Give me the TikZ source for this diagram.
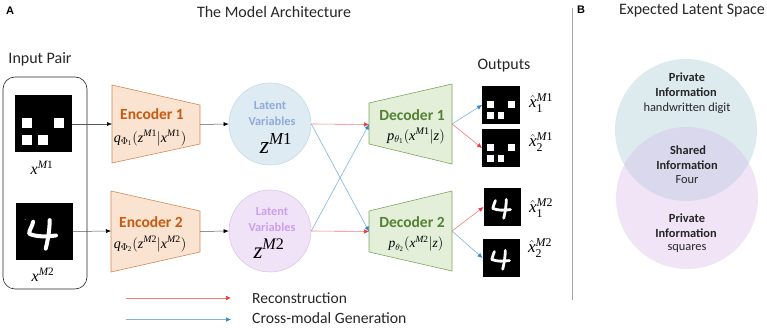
\documentclass[tikz,border=0pt]{standalone}
\usepackage{fontspec}
\setmainfont{Carlito}
\newfontfamily\panelfont{Liberation Sans}
\newfontfamily\mathserif[NFSSFamily=lsr]{Liberation Serif}
\DeclareMathAlphabet{\mvar}{TU}{lsr}{m}{it}
\DeclareMathAlphabet{\mnum}{TU}{lsr}{m}{n}
\usetikzlibrary{arrows.meta}
\definecolor{encfill}{HTML}{FAE3D0}
\definecolor{encedge}{HTML}{D08A55}
\definecolor{enctext}{HTML}{C55A11}
\definecolor{decfill}{HTML}{E3EFD9}
\definecolor{decedge}{HTML}{7FA65F}
\definecolor{dectext}{HTML}{538135}
\definecolor{zonefill}{HTML}{DEEBF2}
\definecolor{zonedge}{HTML}{C5DAE6}
\definecolor{zonetext}{HTML}{8FAADC}
\definecolor{ztwofill}{HTML}{F0E2F7}
\definecolor{ztwoedge}{HTML}{DCC8E8}
\definecolor{ztwotext}{HTML}{CB9FEC}
\definecolor{recon}{HTML}{F0373C}
\definecolor{cross}{HTML}{2E86CC}
\definecolor{reconline}{HTML}{F47C7C}
\definecolor{crossline}{HTML}{7DB4E0}
\definecolor{venntop}{HTML}{DDEBEE}
\definecolor{vennbot}{HTML}{F1E4F6}
\definecolor{vennmid}{HTML}{DAD8EC}
\tikzset{
  plain/.style={font=\fontsize{16}{18}\selectfont, inner sep=0pt, text=black!85},
  blockname/.style={font=\fontsize{15.5}{18}\selectfont\bfseries, inner sep=0pt},
  latent/.style={font=\fontsize{12.3}{14}\selectfont\bfseries, inner sep=0pt},
  vennbody/.style={font=\fontsize{12.4}{14}\selectfont, inner sep=0pt, text=black!85},
  vennhead/.style={vennbody, font=\fontsize{12.4}{14}\selectfont\bfseries},
  mathlabel/.style={inner sep=0pt, font=\fontsize{14}{16}\selectfont},
  panel/.style={font=\panelfont\fontsize{11}{13}\selectfont\bfseries, inner sep=0pt},
  tile/.style={fill=black, inner sep=0pt, minimum width=#1pt, minimum height=#1pt},
  plainarrow/.style={draw=black!65, line width=0.5pt, -{Latex[black,length=5pt,width=4pt]}},
  reconarrow/.style={draw=reconline, line width=0.6pt, -{Latex[recon,length=5pt,width=4.5pt]}},
  crossarrow/.style={draw=crossline, line width=0.6pt, -{Latex[cross,length=5pt,width=4.5pt]}},
  encoder/.style={fill=encfill, draw=encedge, line width=0.6pt},
  decoder/.style={fill=decfill, draw=decedge, line width=0.6pt},
  stroke4/.style={draw=white, line cap=round, line join=round}
}
% Four white squares on a black tile of side #3 with top-left corner (#1,#2)
\newcommand{\squaretile}[3]{%
  \begin{scope}[shift={(#1,#2)},x=#3 pt,y=-#3 pt]
    \foreach \sx/\sy in {.13/.39,.69/.39,.13/.69,.41/.69}
      \fill[white] (\sx,\sy) rectangle ++(.18,.18);
  \end{scope}}
% Handwritten digit four on a black tile
\newcommand{\fourtile}[4]{%
  \begin{scope}[shift={(#1,#2)},x=#3 pt,y=-#3 pt]
    \draw[stroke4,line width=#4pt] (.31,.33) .. controls (.29,.42) and (.24,.47) .. (.24,.54)
      .. controls (.38,.60) and (.55,.59) .. (.71,.57);
    \draw[stroke4,line width=#4pt] (.60,.30) .. controls (.60,.45) and (.57,.65) .. (.53,.80);
    \fill[white!70!black] (.17,.29) circle (.008);
  \end{scope}}
\newcommand{\modal}[2]{\mvar{#1}^{\mvar{M}\mnum{#2}}}
\begin{document}
\begin{tikzpicture}[x=1pt,y=-1pt]
\useasboundingbox (0,0) rectangle (767,328);

% Panel headings
\node[panel] (labA) at (10,11) {A};
\node[plain] (titleA) at (274,12) {The Model Architecture};
\node[panel] (labB) at (581,10) {B};
\node[plain] (titleB) at (692,10) {Expected Latent Space};
\node[plain] (inpair) at (40,59) {Input Pair};
\node[plain] (outs) at (504,66) {Outputs};

% Input pair
\draw[line width=0.6pt, rounded corners=12pt, draw=black!85] (3,77) rectangle (87,289);
\node[tile=57] (imgone) at (43,124) {};
\squaretile{14.5}{95.5}{57}
\node[tile=57] (imgtwo) at (44,231.5) {};
\fourtile{15.5}{203}{57}{4}
\node[mathlabel,font=\fontsize{16}{18}\selectfont] (xone) at (42,168) {$\modal{x}{1}$};
\node[mathlabel,font=\fontsize{16}{18}\selectfont] (xtwo) at (43,275) {$\modal{x}{2}$};

% Encoders
\draw[encoder] (112,85) -- (200,105) -- (200,144) -- (112,163) -- cycle;
\draw[encoder] (111,191) -- (200,211) -- (200,252) -- (111,272) -- cycle;
\coordinate (enconeIn) at (112,124);
\coordinate (enconeOut) at (200,124.5);
\coordinate (enctwoIn) at (111,231);
\coordinate (enctwoOut) at (200,231.5);
\node[blockname,text=enctext] (encone) at (152,114) {Encoder 1};
\node[blockname,text=enctext] (enctwo) at (151,222) {Encoder 2};
\node[mathlabel] (qone) at (150,138) {$\mvar{q}_{\Phi_{\mnum{1}}}(\modal{z}{1}|\modal{x}{1})$};
\node[mathlabel] (qtwo) at (150,244) {$\mvar{q}_{\Phi_{\mnum{2}}}(\modal{z}{2}|\modal{x}{2})$};

% Latent variables
\node[circle,fill=zonefill,draw=zonedge,line width=0.6pt,inner sep=0pt,minimum size=82pt] (zone) at (270,124) {};
\node[circle,fill=ztwofill,draw=ztwoedge,line width=0.6pt,inner sep=0pt,minimum size=82pt] (ztwo) at (270,231) {};
\node[latent,text=zonetext] (lvone) at (270,106) {Latent};
\node[latent,text=zonetext] (lvonee) at (272,121) {Variables};
\node[latent,text=ztwotext] (lvtwo) at (272,212) {Latent};
\node[latent,text=ztwotext] (lvtwoo) at (272,227) {Variables};
\node[mathlabel,font=\fontsize{24}{26}\selectfont] (zlabone) at (276,143) {$\modal{z}{1}$};
\node[mathlabel,font=\fontsize{23}{26}\selectfont] (zlabtwo) at (269,249) {$\modal{z}{2}$};

% Decoders
\draw[decoder] (369,103) -- (452,84) -- (452,164) -- (369,144) -- cycle;
\draw[decoder] (369,211) -- (452,191) -- (452,271) -- (369,252) -- cycle;
\coordinate (deconeIn) at (369,124.5);
\coordinate (deconeOut) at (452,124);
\coordinate (dectwoIn) at (369,231.5);
\coordinate (dectwoOut) at (452,231);
\node[blockname,text=dectext] (decone) at (412,115) {Decoder 1};
\node[blockname,text=dectext] (dectwo) at (412,222) {Decoder 2};
\node[mathlabel,font=\fontsize{14.5}{16}\selectfont] (pone) at (416,136) {$\mvar{p}_{\theta_{\mnum{1}}}(\modal{x}{1}|\mvar{z})$};
\node[mathlabel,font=\fontsize{13.5}{15}\selectfont] (ptwo) at (416,244) {$\mvar{p}_{\theta_{\mnum{2}}}(\modal{x}{2}|\mvar{z})$};

% Output tiles
\node[tile=37.5] (outa) at (501,105) {};
\squaretile{482.2}{86.2}{37.5}
\node[tile=37.5] (outb) at (501,148) {};
\squaretile{482.2}{129.2}{37.5}
\node[tile=37.5] (outc) at (502.5,207) {};
\fourtile{483.8}{188.2}{37.5}{2.8}
\node[tile=37.5] (outd) at (501.5,258) {};
\fourtile{482.8}{239.2}{37.5}{2.8}
\node[mathlabel,font=\fontsize{17}{19}\selectfont] (hata) at (541,103) {$\hat{\mvar{x}}_{\mnum{1}}^{\mvar{M}\mnum{1}}$};
\node[mathlabel,font=\fontsize{17}{19}\selectfont] (hatb) at (541,142) {$\hat{\mvar{x}}_{\mnum{2}}^{\mvar{M}\mnum{1}}$};
\node[mathlabel,font=\fontsize{17}{19}\selectfont] (hatc) at (541,208) {$\hat{\mvar{x}}_{\mnum{1}}^{\mvar{M}\mnum{2}}$};
\node[mathlabel,font=\fontsize{17}{19}\selectfont] (hatd) at (540,248) {$\hat{\mvar{x}}_{\mnum{2}}^{\mvar{M}\mnum{2}}$};

% Data flow
\draw[plainarrow] (imgone.east) -- (enconeIn);
\draw[plainarrow] (imgtwo.east) -- (enctwoIn);
\draw[plainarrow] (enconeOut) -- (zone.west);
\draw[plainarrow] (enctwoOut) -- (ztwo.west);
\draw[crossarrow] (zone.east) -- (dectwoIn);
\draw[crossarrow] (ztwo.east) -- (deconeIn);
\draw[reconarrow] (zone.east) -- (deconeIn);
\draw[reconarrow] (ztwo.east) -- (dectwoIn);
\draw[crossarrow] (deconeOut) -- (outa.west);
\draw[reconarrow] (deconeOut) -- (outb.west);
\draw[reconarrow] (dectwoOut) -- (outc.west);
\draw[crossarrow] (dectwoOut) -- (outd.west);

% Legend
\coordinate (legrs) at (126,298);
\coordinate (legre) at (231,298);
\coordinate (legcs) at (126,319.5);
\coordinate (legce) at (231,319.5);
\draw[reconarrow] (legrs) -- (legre);
\draw[crossarrow] (legcs) -- (legce);
\node[plain,anchor=west,font=\fontsize{15.5}{18}\selectfont] (legr) at (252,298) {Reconstruction};
\node[plain,anchor=west,font=\fontsize{15.7}{18}\selectfont] (legc) at (252,318.5) {Cross-modal Generation};

% Panel separator
\draw[draw=black!35, line width=1pt] (572.5,8) -- (572.5,300);

% Venn diagram of the latent space
\fill[venntop] (686,130) circle (71);
\fill[vennbot] (687,198) circle (71);
\begin{scope}
  \clip (686,130) circle (71);
  \fill[vennmid] (687,198) circle (71);
\end{scope}
\node[vennhead] (ta) at (687,77) {Private};
\node[vennhead] (tb) at (686,92) {Information};
\node[vennbody] (tc) at (687,108) {handwritten digit};
\node[vennhead] (ma) at (688,150) {Shared};
\node[vennhead] (mb) at (687,165) {Information};
\node[vennbody] (mc) at (687,180) {Four};
\node[vennhead] (ba) at (687,218) {Private};
\node[vennhead] (bb) at (686,233) {Information};
\node[vennbody] (bc) at (687,248) {squares};
\end{tikzpicture}
\end{document}
